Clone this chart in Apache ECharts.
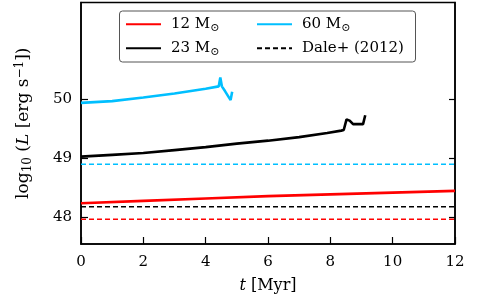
<!DOCTYPE html>
<html><head><meta charset="utf-8">
<script src="https://cdn.jsdelivr.net/npm/echarts@6/dist/echarts.min.js"></script>
<style>html,body{margin:0;padding:0;background:#fff}#c{width:478px;height:295px}</style>
</head><body><div id="c"></div>
<script>
var xTicks = [0, 2, 4, 6, 8, 10, 12];
var yTicks = [48, 49, 50];
var t12 = [0, 2, 4, 6, 8, 10, 12];
var L12 = [48.24, 48.28, 48.32, 48.36, 48.39, 48.42, 48.45];
var t23 = [0, 1, 2, 3, 4, 5, 6, 7, 7.9, 8.35, 8.43, 8.52, 8.62, 8.73, 9.05, 9.12];
var L23 = [49.03, 49.06, 49.09, 49.14, 49.19, 49.25, 49.30, 49.36, 49.43, 49.47, 49.48, 49.66, 49.64, 49.58, 49.58, 49.73];
var t60 = [0, 1, 2, 3, 4, 4.42, 4.47, 4.52, 4.62, 4.75, 4.8, 4.85];
var L60 = [49.94, 49.97, 50.03, 50.10, 50.18, 50.22, 50.37, 50.22, 50.14, 50.03, 49.99, 50.13];
var daleLabels = ['12', '23', '60'];
var daleValues = [47.97, 48.18, 48.90];
var legendNames = ['12 M{s|⊙}', '60 M{s|⊙}', '23 M{s|⊙}', 'Dale+ (2012)'];

function pairs(xs, ys) { return xs.map(function (x, i) { return [x, ys[i]]; }); }
var FONT = 'DejaVu Serif';
var colors = { '12': '#ff0000', '23': '#000000', '60': '#00bfff' };

var series = [
  { name: legendNames[0], type: 'line', data: pairs(t12, L12), symbol: 'none', lineStyle: { color: colors['12'], width: 2.6 }, itemStyle: { color: colors['12'] } },
  { name: legendNames[2], type: 'line', data: pairs(t23, L23), symbol: 'none', lineStyle: { color: colors['23'], width: 2.6 }, itemStyle: { color: colors['23'] } },
  { name: legendNames[1], type: 'line', data: pairs(t60, L60), symbol: 'none', lineStyle: { color: colors['60'], width: 2.6 }, itemStyle: { color: colors['60'] } }
];
daleLabels.forEach(function (k, i) {
  series.push({
    name: k === '23' ? legendNames[3] : 'dale' + k,
    type: 'line', symbol: 'none',
    data: [[xTicks[0], daleValues[i]], [xTicks[xTicks.length - 1], daleValues[i]]],
    lineStyle: { color: colors[k], width: 1.4, type: [5, 3] },
    itemStyle: { color: colors[k] }
  });
});

var legendText = {
  fontFamily: FONT, fontSize: 15, color: '#000', lineHeight: 18, padding: [0, 0, 0, 5],
  rich: { s: { fontFamily: FONT, fontSize: 11, color: '#000', verticalAlign: 'bottom', lineHeight: 10 } }
};
function makeLegend(names, left) {
  return {
    data: names, orient: 'vertical', left: left, top: 15.3,
    itemWidth: 35, itemHeight: 10, itemGap: 6, padding: 0,
    itemStyle: { opacity: 0 },
    textStyle: legendText
  };
}

var chart = echarts.init(document.getElementById('c'), null, { renderer: 'canvas' });
chart.setOption({
  animation: false,
  backgroundColor: '#fff',
  grid: { left: 81, right: 23, top: 2.5, bottom: 51, outerBoundsMode: 'none', containLabel: false, show: true, borderColor: '#000', borderWidth: 1.5, backgroundColor: 'transparent' },
  graphic: [{
    type: 'rect', z: 3, shape: { x: 119.5, y: 11, width: 296, height: 51, r: 3 },
    style: { fill: '#fff', stroke: '#555', lineWidth: 1 }
  }],
  legend: [makeLegend([legendNames[0], legendNames[2]], 125), makeLegend([legendNames[1], legendNames[3]], 256)],
  xAxis: [{
    type: 'value', min: 0, max: 12, interval: 2,
    name: '{i|t} [Myr]', nameLocation: 'middle', nameGap: 34,
    nameTextStyle: { fontFamily: FONT, fontSize: 16, color: '#000', rich: { i: { fontFamily: FONT, fontStyle: 'italic', fontSize: 16 } } },
    axisLine: { show: true, lineStyle: { color: '#000', width: 1.5 } },
    axisTick: { show: true, inside: true, length: 7, lineStyle: { color: '#000', width: 1.2 } },
    axisLabel: { fontFamily: FONT, fontSize: 15, color: '#000', margin: 11 },
    splitLine: { show: false }
  }],
  yAxis: [{
    type: 'value', min: 47.55, max: 51.64,
    name: 'log{sub|10} ({i|L} [erg s{sup|−1}])', nameLocation: 'middle', nameGap: 47,
    nameTextStyle: { fontFamily: FONT, fontSize: 17, color: '#000', lineHeight: 20,
      rich: {
        sub: { fontFamily: FONT, fontSize: 12, color: '#000', verticalAlign: 'bottom', lineHeight: 12 },
        sup: { fontFamily: FONT, fontSize: 12, color: '#000', verticalAlign: 'top', lineHeight: 12 },
        i: { fontFamily: FONT, fontStyle: 'italic', fontSize: 17, color: '#000' }
      } },
    axisLine: { show: true, lineStyle: { color: '#000', width: 1.5 } },
    axisTick: { show: true, inside: true, length: 7, customValues: yTicks, lineStyle: { color: '#000', width: 1.2 } },
    axisLabel: { fontFamily: FONT, fontSize: 15, color: '#000', margin: 9, customValues: yTicks },
    splitLine: { show: false }
  }, {
    type: 'value', min: 47.55, max: 51.64, position: 'right',
    axisLine: { show: true, lineStyle: { color: '#000', width: 1.5 } },
    axisTick: { show: true, inside: true, length: 6, customValues: yTicks, lineStyle: { color: '#000', width: 1.2 } },
    axisLabel: { show: false, customValues: yTicks },
    splitLine: { show: false }
  }],
  series: series
});
</script></body></html>
